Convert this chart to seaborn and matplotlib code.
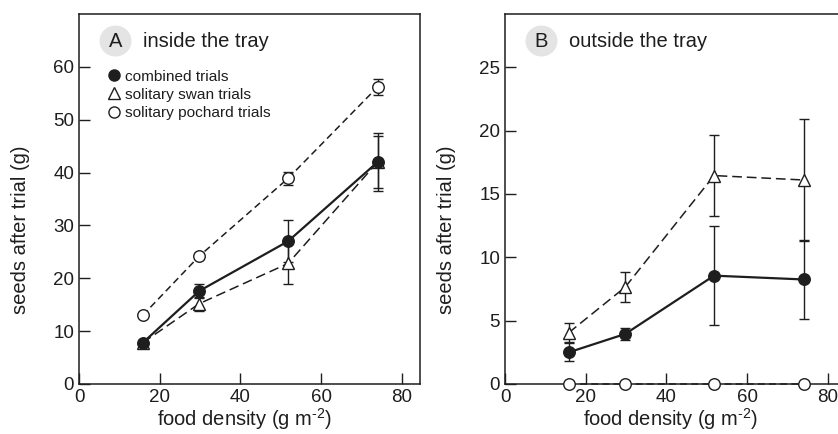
import numpy as np
import pandas as pd
import matplotlib
matplotlib.use("Agg")
import matplotlib.pyplot as plt
from matplotlib.patches import Ellipse
import seaborn as sns

# ---------------- data ----------------
density = [15.8, 29.8, 51.8, 74.0]

# Panel A: inside the tray
a_combined = [7.8, 17.6, 27.0, 42.0]
a_combined_err = [0.6, 1.4, 4.0, 5.0]
a_swan = [7.8, 15.2, 22.8, 42.0]
a_swan_err = [0.5, 1.3, 3.8, 5.4]
a_pochard = [13.0, 24.2, 38.9, 56.2]
a_pochard_err = [0.4, 0.5, 1.3, 1.5]

# Panel B: outside the tray
b_combined = [2.5, 3.95, 8.55, 8.25]
b_combined_err = [0.7, 0.5, 3.9, 3.15]
b_swan = [4.05, 7.65, 16.45, 16.1]
b_swan_err = [0.75, 1.2, 3.2, 4.85]
b_pochard = [0.0, 0.0, 0.0, 0.0]
b_pochard_err = [0.0, 0.0, 0.0, 0.0]

series_names = ["combined trials", "solitary swan trials", "solitary pochard trials"]
panel_letters = ["A", "B"]
panel_titles = ["inside the tray", "outside the tray"]
xlabel = r"food density (g m$^{\text{-}2}$)"
ylabel = "seeds after trial (g)"

# ---------------- style ----------------
sns.set_style("ticks")
plt.rcParams["font.family"] = ["Liberation Sans", "DejaVu Sans"]
plt.rcParams["mathtext.default"] = "regular"
plt.rcParams["mathtext.fontset"] = "custom"
plt.rcParams["mathtext.rm"] = "Liberation Sans"
plt.rcParams["mathtext.it"] = "Liberation Sans"
plt.rcParams["lines.scale_dashes"] = False

W, H = 838, 434
fig = plt.figure(figsize=(W / 100, H / 100), dpi=100)

def fx(px):
    return px / W

def fy(py):
    return 1 - py / H

ax_a = fig.add_axes([fx(79), fy(384), fx(341), (384 - 14) / H])
ax_b = fig.add_axes([fx(505), fy(384), fx(341), (384 - 14) / H])

ink = "#1e1e1e"
styles = {
    "combined trials": dict(marker="o", mfc=ink, ls="-", lw=1.6),
    "solitary swan trials": dict(marker="^", mfc="white", ls=(0, (7, 3.5)), lw=1.1),
    "solitary pochard trials": dict(marker="o", mfc="white", ls=(0, (5, 3)), lw=1.1),
}

panels = [
    (ax_a, [(a_combined, a_combined_err), (a_swan, a_swan_err), (a_pochard, a_pochard_err)], (0, 70), [0, 10, 20, 30, 40, 50, 60]),
    (ax_b, [(b_combined, b_combined_err), (b_swan, b_swan_err), (b_pochard, b_pochard_err)], (0, 29.2), [0, 5, 10, 15, 20, 25]),
]

for ax, data, ylim, yticks in panels:
    # draw order: pochard, swan, combined
    for name, (vals, errs) in reversed(list(zip(series_names, data))):
        st = styles[name]
        df = pd.DataFrame({"x": density, "y": vals})
        ax.errorbar(density, vals, yerr=errs, fmt="none", ecolor=ink,
                    elinewidth=1.0, capsize=3.5, capthick=1.0, zorder=2)
        sns.lineplot(data=df, x="x", y="y", ax=ax, color=ink, linestyle=st["ls"],
                     linewidth=st["lw"], marker=st["marker"], markersize=8.3 if st["marker"] == "o" else 8.8,
                     markerfacecolor=st["mfc"], markeredgecolor=ink, markeredgewidth=1.0,
                     clip_on=False, zorder=3, label=name, legend=False)
    ax.set_xlim(0, 84.5)
    ax.set_ylim(*ylim)
    ax.set_xticks([0, 20, 40, 60, 80])
    ax.set_yticks(yticks)
    ax.tick_params(direction="in", length=8, width=1.0, labelsize=13.5, pad=3.5, color=ink, labelcolor=ink)
    for sp in ax.spines.values():
        sp.set_linewidth(1.1)
        sp.set_color(ink)
        sp.set_visible(True)
    ax.set_xlabel(xlabel, fontsize=14.5, color=ink)
    ax.set_ylabel(ylabel, fontsize=14.5, color=ink)
    ax.xaxis.set_label_coords(170 / 341 - 0.012, -22 / 370, transform=ax.transAxes)
    ax.yaxis.set_label_coords(-49 / 341, (384 - 230) / 370, transform=ax.transAxes)

# panel labels
for (cx, tx), letter, title in zip([(115.5, 143), (541.5, 569)], panel_letters, panel_titles):
    fig.add_artist(Ellipse((fx(cx), fy(41)), width=32 / W, height=31 / H,
                           transform=fig.transFigure, facecolor="#e4e4e4", edgecolor="none", zorder=5))
    fig.text(fx(cx), fy(41.5), letter, ha="center", va="center", fontsize=14.5, color=ink, zorder=6)
    fig.text(fx(tx), fy(41.5), title, ha="left", va="center", fontsize=14.5, color=ink, zorder=6)

# legend in panel A
leg_handles = []
for name in series_names:
    st = styles[name]
    leg_handles.append(plt.Line2D([], [], ls="none", marker=st["marker"], markersize=8 if st["marker"] == "o" else 8.5,
                                  markerfacecolor=st["mfc"], markeredgecolor=ink, markeredgewidth=1.0))
leg = ax_a.legend(leg_handles, series_names, loc="upper left", frameon=False,
                  bbox_to_anchor=(0.088, 0.85), fontsize=11.1, handlelength=0.6,
                  handletextpad=0.45, labelspacing=0.28, borderaxespad=0, borderpad=0)
for t in leg.get_texts():
    t.set_color(ink)

fig.savefig("out.png", dpi=100)
